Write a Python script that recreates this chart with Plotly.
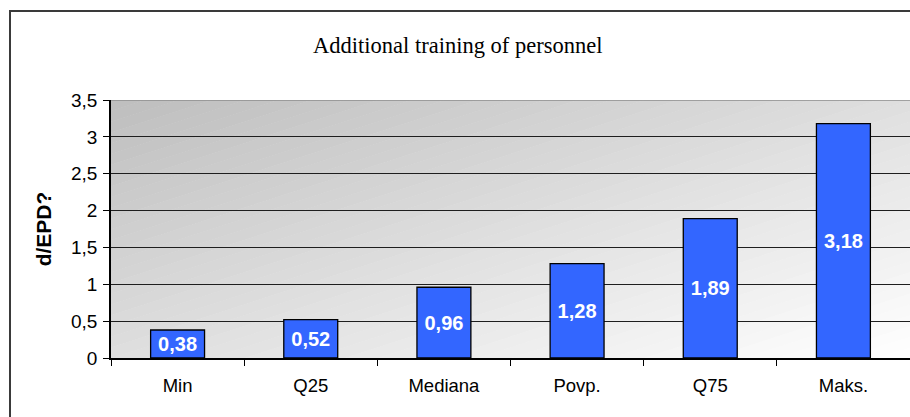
import plotly.graph_objects as go

categories = ["Min", "Q25", "Mediana", "Povp.", "Q75", "Maks."]
values = [0.38, 0.52, 0.96, 1.28, 1.89, 3.18]
y_ticks = [0, 0.5, 1, 1.5, 2, 2.5, 3, 3.5]

W, H = 910, 417
ML, MR, MT, MB = 111, 0, 100, 59
PW, PH = W - ML - MR, H - MT - MB

fig = go.Figure()
fig.add_trace(go.Bar(
    x=categories, y=values, width=0.405,
    marker=dict(color="#3366ff", line=dict(color="#000000", width=1.3)),
    texttemplate="%{y:.2f}", textposition="inside", insidetextanchor="middle",
    constraintext="none",
    textfont=dict(family="Liberation Sans, Arial", size=20, color="white", weight="bold"),
    hoverinfo="skip",
))

# diagonal grey-to-white gradient behind the plot area
def clip(poly, a, b):
    def cut(pts, f):
        out = []
        n = len(pts)
        for i in range(n):
            p, q = pts[i], pts[(i + 1) % n]
            fp, fq = f(p), f(q)
            if fp >= 0:
                out.append(p)
            if (fp >= 0) != (fq >= 0):
                t = fp / (fp - fq)
                out.append((p[0] + t * (q[0] - p[0]), p[1] + t * (q[1] - p[1])))
        return out
    pts = cut(poly, lambda p: p[0] + p[1] - a)
    if not pts:
        return pts
    return cut(pts, lambda p: b - (p[0] + p[1]))

N = 48
square = [(0, 0), (1, 0), (1, 1), (0, 1)]  # (u from left, v from top)
c0, c1 = 190, 255
for i in range(N):
    a, b = 2 * i / N, 2 * (i + 1) / N + 0.002
    pts = clip(square, a, b)
    if len(pts) < 3:
        continue
    path = "M " + " L ".join(f"{u:.5f},{1 - v:.5f}" for u, v in pts) + " Z"
    c = int(round(c0 + (c1 - c0) * (i + 0.5) / N))
    fig.add_shape(type="path", path=path, xref="x domain", yref="y domain",
                  fillcolor=f"rgb({c},{c},{c})", line=dict(width=0), layer="below")

# top border of plot area (gray)
fig.add_shape(type="line", xref="x domain", yref="y", x0=0, x1=1, y0=3.5, y1=3.5,
              line=dict(color="#8c8c8c", width=1.5), layer="above")

# outer chart border
fig.add_shape(type="rect", xref="paper", yref="paper",
              x0=(10 - ML) / PW, x1=1.05, y0=-0.5, y1=(H - MB - 11) / PH,
              line=dict(color="#3a3a3a", width=2), fillcolor="rgba(0,0,0,0)")

fig.update_layout(
    width=W, height=H,
    margin=dict(l=ML, r=MR, t=MT, b=MB),
    paper_bgcolor="white", plot_bgcolor="white",
    separators=",.",
    showlegend=False,
    title=dict(text="Additional training of personnel", x=0.503, xref="container",
               y=(H - 45) / H, yref="container", xanchor="center", yanchor="middle",
               font=dict(family="Liberation Serif, Times New Roman", size=22.5, color="#000")),
    font=dict(family="Liberation Sans, Arial", color="#000"),
    bargap=0.6,
)
fig.update_xaxes(
    type="category", range=[-0.5, 5.5], tickson="boundaries",
    ticks="outside", ticklen=6, tickcolor="#000", tickwidth=1,
    showline=True, linecolor="#000", linewidth=1.5,
    showgrid=False, tickfont=dict(size=18.5), ticklabelstandoff=10,
)
fig.update_yaxes(
    range=[0, 3.5], tickvals=y_ticks, ticks="outside", ticklen=6,
    tickcolor="#000", tickwidth=1,
    showline=True, linecolor="#000", linewidth=1.5,
    showgrid=True, gridcolor="#1e1e1e", gridwidth=1,
    zeroline=False, tickfont=dict(size=19), ticklabelstandoff=2,
    title=dict(text="<b>d/EPD?</b>", font=dict(size=21), standoff=14),
)

fig.write_html("out.html", config={"displayModeBar": False},
               post_script="document.body.style.margin='0';")
